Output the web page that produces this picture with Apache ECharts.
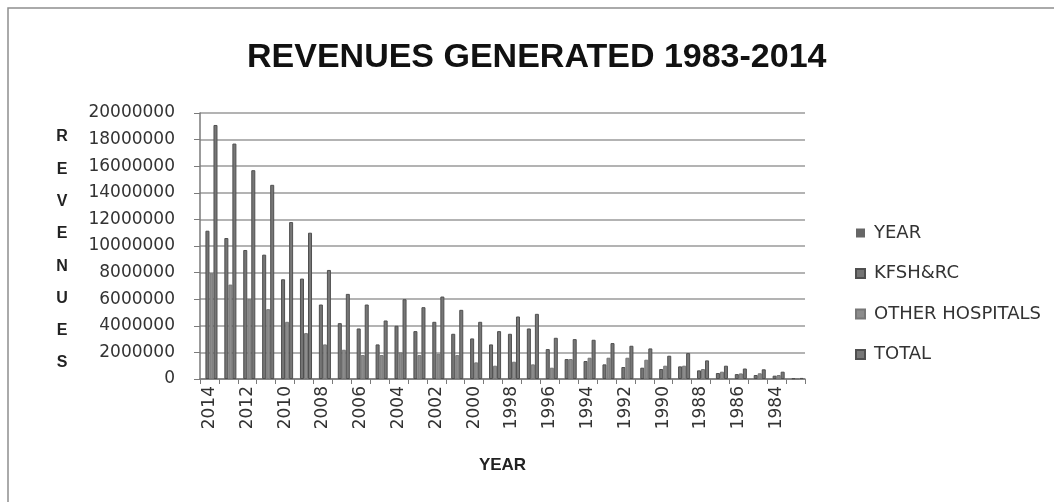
<!DOCTYPE html>
<html>
<head>
<meta charset="utf-8">
<script src="https://cdn.jsdelivr.net/npm/echarts@6/dist/echarts.min.js"></script>
<style>
  html, body { margin: 0; padding: 0; background: #ffffff; }
  #chart { width: 1054px; height: 502px; }
</style>
</head>
<body>
<div id="chart"></div>
<script>
// Years shown on the category axis, newest first
const years = [2014, 2013, 2012, 2011, 2010, 2009, 2008, 2007, 2006, 2005, 2004, 2003, 2002, 2001, 2000, 1999,
               1998, 1997, 1996, 1995, 1994, 1993, 1992, 1991, 1990, 1989, 1988, 1987, 1986, 1985, 1984, 1983];

// Revenue per year (SAR)
const kfshrc = [11150000, 10600000, 9700000, 9350000, 7500000, 7550000, 5600000, 4200000, 3800000, 2600000,
                4000000, 3600000, 4300000, 3400000, 3050000, 2600000, 3400000, 3800000, 2250000, 1500000,
                1350000, 1100000, 900000, 850000, 750000, 950000, 650000, 450000, 370000, 300000, 250000, 50000];
const otherHospitals = [7950000, 7100000, 6000000, 5250000, 4300000, 3450000, 2600000, 2200000, 1800000, 1800000,
                2000000, 1800000, 1900000, 1800000, 1250000, 1000000, 1300000, 1100000, 850000, 1500000,
                1600000, 1600000, 1600000, 1450000, 1000000, 1000000, 750000, 550000, 420000, 430000, 300000, 30000];
const total = [19100000, 17700000, 15700000, 14600000, 11800000, 11000000, 8200000, 6400000, 5600000, 4400000,
                6000000, 5400000, 6200000, 5200000, 4300000, 3600000, 4700000, 4900000, 3100000, 3000000,
                2950000, 2700000, 2500000, 2300000, 1750000, 1950000, 1400000, 1000000, 790000, 730000, 550000, 80000];

const seriesNames = ['YEAR', 'KFSH&RC', 'OTHER HOSPITALS', 'TOTAL'];
const yTicks = { min: 0, max: 20000000, step: 2000000 };

const chart = echarts.init(document.getElementById('chart'), null, { renderer: 'canvas' });

const tickFont = 'DejaVu Sans';
const boldFont = 'Liberation Sans';

function barSeries(name, data, color, border) {
  return {
    name: name,
    type: 'bar',
    data: data,
    barGap: '0%',
    barCategoryGap: '15%',
    itemStyle: { color: color, borderColor: border, borderWidth: border ? 1 : 0 }
  };
}

chart.setOption({
  backgroundColor: '#ffffff',
  animation: false,
  title: {
    text: 'REVENUES GENERATED 1983-2014',
    left: 242,
    top: 36,
    textStyle: { fontFamily: boldFont, fontWeight: 'bold', fontSize: 34, color: '#111111' }
  },
  legend: {
    orient: 'vertical',
    left: 855,
    top: 224,
    padding: 0,
    itemWidth: 9,
    itemHeight: 9,
    itemGap: 22.5,
    icon: 'rect',
    data: seriesNames,
    textStyle: { fontFamily: tickFont, fontSize: 18, color: '#333333', padding: [0, 0, 0, 4] }
  },
  grid: { left: 200, right: 249, top: 113, bottom: 123 },
  xAxis: {
    type: 'category',
    data: years.map(String),
    name: 'YEAR',
    nameLocation: 'middle',
    nameGap: 78,
    nameTextStyle: { fontFamily: boldFont, fontWeight: 'bold', fontSize: 17, color: '#222222' },
    axisLine: { lineStyle: { color: '#7a7a7a', width: 1.5 } },
    axisTick: { show: true, alignWithLabel: false, interval: 0, length: 5, lineStyle: { color: '#7a7a7a' } },
    axisLabel: {
      interval: 1,
      rotate: 90,
      align: 'right',
      verticalAlign: 'middle',
      margin: 7,
      fontFamily: tickFont,
      fontSize: 17,
      color: '#333333'
    }
  },
  yAxis: {
    type: 'value',
    min: yTicks.min,
    max: yTicks.max,
    interval: yTicks.step,
    axisLine: { show: true, lineStyle: { color: '#7a7a7a', width: 1.5 } },
    axisTick: { show: true, length: 6, lineStyle: { color: '#7a7a7a' } },
    axisLabel: {
      margin: 25,
      fontFamily: tickFont,
      fontSize: 17,
      color: '#333333',
      formatter: function (v) { return String(v); }
    },
    splitLine: { lineStyle: { color: '#9a9a9a', width: 1.5 } }
  },
  graphic: [
    {
      type: 'rect',
      shape: { x: 8, y: 8, width: 1060, height: 510 },
      style: { fill: 'none', stroke: '#8f8f8f', lineWidth: 1.5 },
      silent: true
    },
    {
      type: 'text',
      x: 62,
      y: 250,
      style: {
        text: 'R\nE\nV\nE\nN\nU\nE\nS',
        fontFamily: boldFont,
        fontWeight: 'bold',
        fontSize: 16,
        lineHeight: 32.3,
        fill: '#222222',
        align: 'center',
        verticalAlign: 'middle'
      }
    }
  ],
  series: [
    barSeries(seriesNames[0], years, '#666666', null),
    barSeries(seriesNames[1], kfshrc, '#747474', '#4f4f4f'),
    barSeries(seriesNames[2], otherHospitals, '#8c8c8c', '#777777'),
    barSeries(seriesNames[3], total, '#777777', '#505050')
  ]
});
</script>
</body>
</html>
